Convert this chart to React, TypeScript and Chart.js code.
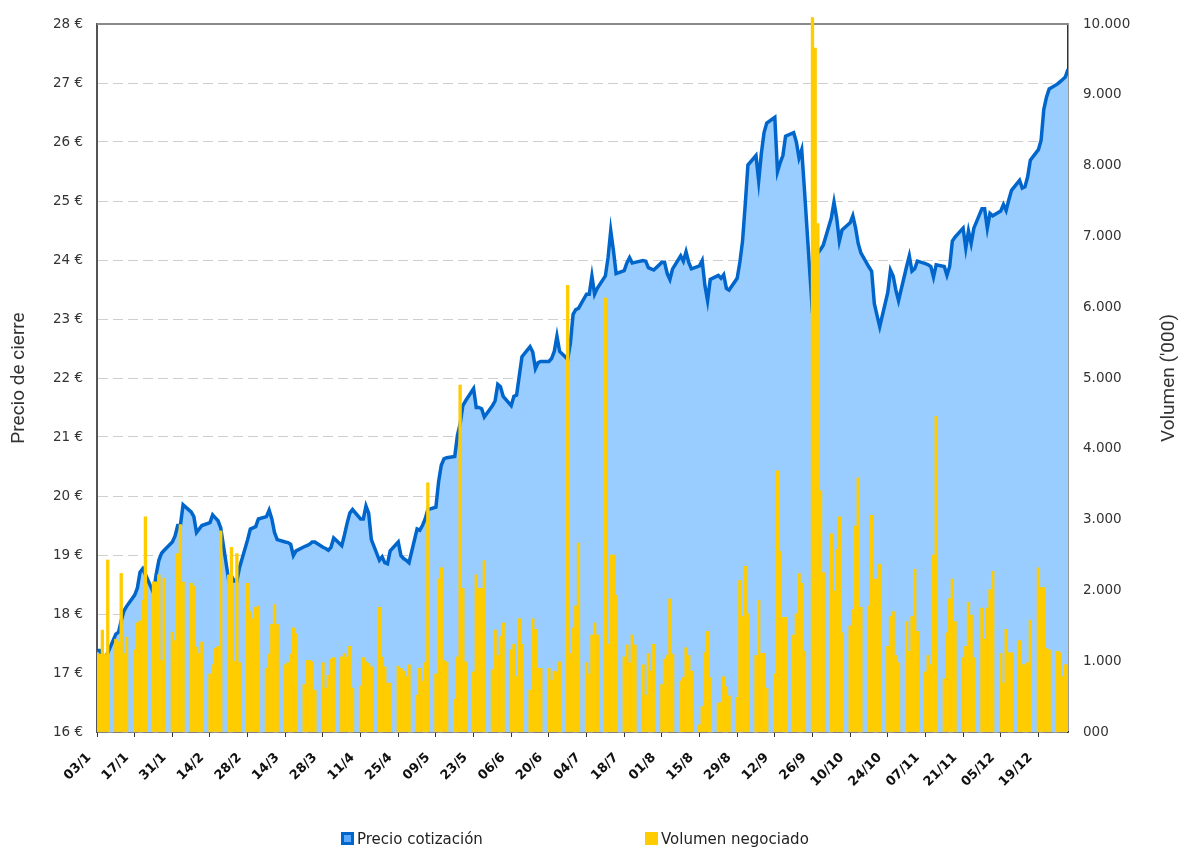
import React, { useEffect, useRef } from 'react';
import { Chart, registerables } from 'chart.js';

Chart.register(...registerables);

// Tick labels (every second Monday)
const TICK_LABELS = [
  '03/1', '17/1', '31/1', '14/2', '28/2', '14/3', '28/3', '11/4', '25/4', '09/5', '23/5', '06/6', '20/6',
  '04/7', '18/7', '01/8', '15/8', '29/8', '12/9', '26/9', '10/10', '24/10', '07/11', '21/11', '05/12', '19/12',
];

// Closing price (€), one value per trading day (Mon-Fri), from 03/1 to 30/12
const PRICE = [
  17.38, 17.38, 17.30, 17.26, 17.34,
  17.66, 17.69, 17.89, 18.05, 18.13,
  18.32, 18.44, 18.71, 18.77, 18.67,
  18.36, 18.67, 18.91, 19.03, 19.08,
  19.22, 19.32, 19.50, 19.50, 19.85,
  19.73, 19.65, 19.38, 19.44, 19.50,
  19.55, 19.68, 19.63, 19.58, 19.46,
  18.56, 18.64, 18.56, 18.56, 18.79,
  19.26, 19.44, 19.46, 19.48, 19.61,
  19.65, 19.76, 19.61, 19.38, 19.26,
  19.22, 19.21, 19.18, 18.99, 19.07,
  19.14, 19.16, 19.18, 19.22, 19.22,
  19.13, 19.11, 19.08, 19.13, 19.29,
  19.16, 19.34, 19.54, 19.71, 19.77,
  19.61, 19.61, 19.83, 19.71, 19.26,
  18.91, 18.97, 18.87, 18.85, 19.07,
  19.22, 18.99, 18.94, 18.91, 18.87,
  19.44, 19.42, 19.50, 19.61, 19.77,
  19.81, 20.24, 20.52, 20.63, 20.65,
  20.67, 21.03, 21.22, 21.53, 21.61,
  21.82, 21.50, 21.50, 21.48, 21.34,
  21.53, 21.61, 21.89, 21.85, 21.69,
  21.53, 21.69, 21.71, 22.04, 22.36,
  22.53, 22.44, 22.16, 22.26, 22.28,
  22.28, 22.33, 22.45, 22.71, 22.45,
  22.32, 22.59, 23.08, 23.16, 23.18,
  23.42, 23.42, 23.73, 23.42, 23.52,
  23.73, 24.04, 24.50, 24.16, 23.77,
  23.82, 23.95, 24.04, 23.95, 23.96,
  23.99, 23.98, 23.87, 23.85, 23.83,
  23.96, 23.96, 23.77, 23.67, 23.85,
  24.07, 23.98, 24.14, 23.96, 23.85,
  23.90, 23.99, 23.57, 23.31, 23.67,
  23.74, 23.69, 23.75, 23.52, 23.49,
  23.69, 23.96, 24.32, 24.94, 25.61,
  25.77, 25.34, 25.81, 26.16, 26.32,
  26.42, 25.50, 25.65, 25.77, 26.10,
  26.16, 26.00, 25.73, 25.87, 25.20,
  23.10, 24.16, 24.12, 24.18, 24.25,
  24.71, 24.98, 24.71, 24.32, 24.51,
  24.63, 24.75, 24.55, 24.28, 24.12,
  23.88, 23.81, 23.26, 23.06, 22.87,
  23.45, 23.83, 23.73, 23.49, 23.31,
  23.89, 24.07, 23.81, 23.85, 23.98,
  23.94, 23.92, 23.89, 23.71, 23.92,
  23.89, 23.74, 23.89, 24.32, 24.39,
  24.54, 24.20, 24.49, 24.28, 24.54,
  24.87, 24.87, 24.54, 24.79, 24.75,
  24.83, 24.94, 24.84, 25.02, 25.18,
  25.35, 25.22, 25.24, 25.41, 25.69,
  25.87, 26.03, 26.55, 26.76, 26.90,
  26.98, 27.02, 27.06, 27.10, 27.23,
];

// Traded volume ('000), one value per trading day
const VOLUME = [
  1100, 1100, 1440, 1100, 2430,
  1310, 1270, 2240, 1110, 1340,
  1160, 1540, 1570, 1860, 3040,
  2120, 2120, 2220, 1010, 2170,
  1410, 1290, 2520, 2930, 2120,
  2100, 2060, 1200, 1110, 1270,
  820, 950, 1180, 1210, 2840,
  2220, 2610, 1000, 2520, 980,
  2100, 1700, 1600, 1760, 1780,
  900, 1100, 1520, 1800, 1520,
  950, 980, 1100, 1470, 1390,
  670, 1010, 1010, 990, 590,
  980, 620, 800, 1030, 1050,
  1060, 1110, 1060, 1210, 620,
  650, 1050, 990, 970, 920,
  1760, 1060, 920, 690, 690,
  930, 900, 860, 780, 950,
  520, 900, 720, 980, 3520,
  820, 2160, 2320, 1010, 990,
  460, 1060, 4900, 2030, 990,
  850, 2220, 2030, 2030, 2420,
  880, 1440, 1080, 1350, 1540,
  1160, 1240, 780, 1600, 1240,
  590, 1600, 1450, 900, 900,
  900, 730, 860, 850, 990,
  6310, 1110, 1470, 1780, 2670,
  980, 820, 1370, 1540, 1370,
  6130, 1240, 2500, 2500, 1930,
  1060, 1230, 980, 1370, 1230,
  950, 520, 1110, 860, 1240,
  670, 1030, 1080, 1880, 1100,
  720, 770, 1190, 1080, 860,
  100, 360, 1120, 1420, 770,
  410, 420, 780, 640, 510,
  490, 2140, 1630, 2340, 1670,
  1080, 1860, 1110, 1110, 620,
  820, 3690, 2550, 1620, 1620,
  1370, 1670, 2240, 2100, 1140,
  10090, 9660, 7180, 3410, 2250,
  2800, 1990, 2580, 3040, 1400,
  1500, 1730, 2910, 3590, 1760,
  1780, 3060, 2160, 2160, 2370,
  1210, 1630, 1700, 1080, 980,
  1560, 1140, 1630, 2300, 1420,
  850, 1080, 950, 2500, 4460,
  750, 1400, 1880, 2160, 1560,
  1050, 1210, 1830, 1650, 1050,
  1750, 1310, 1750, 2010, 2270,
  1110, 690, 1450, 1120, 1120,
  1290, 950, 950, 980, 1580,
  2320, 2040, 2040, 1180, 1160,
  1140, 1120, 780, 950, 950,
];

// Calendar day (days since 03/1) of each trading day: Monday..Friday of each week
const TRADING_DAY = PRICE.map((_, i) => Math.floor(i / 5) * 7 + (i % 5));
const LAST_DAY = TRADING_DAY[TRADING_DAY.length - 1];

const TICK_FONT = { family: '"DejaVu Sans", sans-serif', size: 13.5 };

const framePlugin = {
  id: 'frame',
  beforeDatasetsDraw(chart: any) {
    const { ctx, chartArea } = chart;
    ctx.save();
    ctx.strokeStyle = '#8a8a8a';
    ctx.lineWidth = 2;
    ctx.beginPath();
    ctx.moveTo(chartArea.left, chartArea.top);
    ctx.lineTo(chartArea.right, chartArea.top);
    ctx.stroke();
    ctx.restore();
  },
  afterDraw(chart: any) {
    const { ctx, chartArea } = chart;
    ctx.save();
    ctx.translate(1169, (chartArea.top + chartArea.bottom) / 2);
    ctx.rotate(-Math.PI / 2);
    ctx.textAlign = 'center';
    ctx.textBaseline = 'middle';
    ctx.fillStyle = '#333';
    ctx.font = '19px Roboto, sans-serif';
    ctx.fillText("Volumen ('000)", 0, 0);
    ctx.restore();
  },
};

export default function App() {
  const canvasRef = useRef<HTMLCanvasElement | null>(null);

  useEffect(() => {
    const canvas = canvasRef.current;
    if (!canvas) return;
    const chart = new Chart(canvas, {
      data: {
        datasets: [
          {
            type: 'bar',
            label: 'Volumen negociado',
            data: VOLUME.map((v, i) => ({ x: TRADING_DAY[i], y: v })),
            xAxisID: 'x',
            yAxisID: 'y1',
            backgroundColor: '#FFCC00',
            borderWidth: 0,
            barPercentage: 1,
            categoryPercentage: 1,
            order: 0,
            clip: { left: 0, top: 8, right: 0, bottom: 0 },
          } as any,
          {
            type: 'line',
            label: 'Precio cotización',
            data: PRICE.map((v, i) => ({ x: TRADING_DAY[i], y: v })),
            xAxisID: 'x',
            yAxisID: 'y',
            borderColor: '#0066CC',
            borderWidth: 3.5,
            backgroundColor: '#99CCFF',
            fill: 'start',
            pointRadius: 0,
            tension: 0,
            order: 1,
          } as any,
        ],
      },
      options: {
        animation: false,
        responsive: false,
        maintainAspectRatio: false,
        layout: { padding: { top: 24, left: 0, right: 0, bottom: 0 } },
        plugins: {
          legend: { display: false },
          tooltip: { enabled: false },
        },
        scales: {
          x: {
            type: 'linear',
            position: 'bottom',
            offset: false,
            min: 0,
            max: LAST_DAY,
            afterFit: (s: any) => {
              s.height = 117;
            },
            afterBuildTicks: (axis: any) => {
              axis.ticks = TICK_LABELS.map((_, i) => ({ value: i * 14 }));
            },
            ticks: {
              autoSkip: false,
              minRotation: 45,
              maxRotation: 45,
              padding: 13,
              labelOffset: -8,
              color: '#111',
              font: { family: '"DejaVu Sans", sans-serif', size: 13, weight: 'bold' },
              callback: (_v: any, i: number) => TICK_LABELS[i],
            },
            grid: { display: true, offset: false, drawOnChartArea: false, drawTicks: true, tickLength: 5, color: '#333' },
            border: { display: true, color: '#333', width: 1.5 },
          },
          y: {
            position: 'left',
            min: 16,
            max: 28,
            afterFit: (s: any) => {
              s.width = 97;
            },
            ticks: {
              stepSize: 1,
              padding: 14,
              color: '#333',
              font: TICK_FONT,
              callback: (v: any) => `${v} €`,
            },
            grid: { color: '#cfcfcf', lineWidth: 1, drawTicks: false },
            border: { display: true, dash: [10, 5], color: '#555', width: 2 },
            title: {
              display: true,
              text: 'Precio de cierre',
              color: '#333',
              font: { family: 'Roboto, sans-serif', size: 19 },
              padding: { top: 8, bottom: 0 },
            },
          },
          y1: {
            position: 'right',
            min: 0,
            max: 10000,
            afterFit: (s: any) => {
              s.width = 114;
            },
            ticks: {
              stepSize: 1000,
              padding: 15,
              color: '#333',
              font: TICK_FONT,
              callback: (v: any) => (v === 0 ? '000' : `${Math.round(v / 1000)}.000`),
            },
            grid: { drawOnChartArea: false, drawTicks: false },
            border: { display: true, color: '#333', width: 1.5 },
          },
        },
      } as any,
      plugins: [framePlugin],
    });
    return () => chart.destroy();
  }, []);

  const legendText: React.CSSProperties = {
    position: 'absolute',
    top: 829,
    font: '15px "DejaVu Sans", sans-serif',
    lineHeight: '20px',
    color: '#222',
    whiteSpace: 'nowrap',
  };

  return (
    <div style={{ position: 'absolute', left: 0, top: 0, width: 1182, height: 849, background: '#fff' }}>
      <canvas ref={canvasRef} width={1182} height={849} style={{ display: 'block', width: 1182, height: 849 }} />
      <div
        style={{
          position: 'absolute',
          left: 341,
          top: 832,
          width: 13,
          height: 13,
          boxSizing: 'border-box',
          border: '3px solid #0066CC',
          background: '#5AA9FF',
        }}
      />
      <span style={{ ...legendText, left: 357 }}>Precio cotización</span>
      <div style={{ position: 'absolute', left: 645, top: 832, width: 13, height: 13, background: '#FFCC00' }} />
      <span style={{ ...legendText, left: 661 }}>Volumen negociado</span>
    </div>
  );
}
